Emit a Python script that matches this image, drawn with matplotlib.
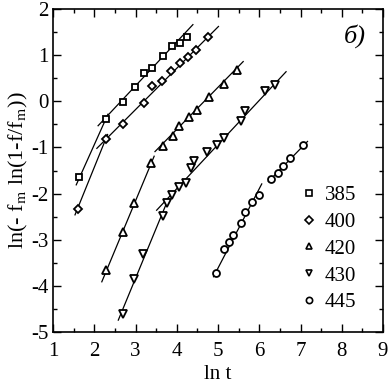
import matplotlib
matplotlib.use("Agg")
import matplotlib.pyplot as plt
from matplotlib.ticker import MultipleLocator

plt.rcParams['font.family'] = ['Liberation Serif', 'DejaVu Serif']
plt.rcParams['mathtext.fontset'] = 'stix'
plt.rcParams['axes.unicode_minus'] = False

# ---- data ----
labels = ['385', '400', '420', '430', '445']
markers = ['s', 'D', '^', 'v', 'o']

x385 = [1.63, 2.28, 2.70, 2.99, 3.21, 3.39, 3.67, 3.88, 4.08, 4.24]
y385 = [-1.64, -0.39, -0.01, 0.31, 0.62, 0.73, 0.98, 1.19, 1.26, 1.40]

x400 = [1.61, 2.28, 2.70, 3.20, 3.39, 3.65, 3.87, 4.07, 4.28, 4.47, 4.76]
y400 = [-2.33, -0.81, -0.50, -0.03, 0.32, 0.43, 0.65, 0.83, 0.96, 1.10, 1.39]

x420 = [2.28, 2.70, 2.97, 3.37, 3.66, 3.90, 4.06, 4.29, 4.48, 4.77, 5.15, 5.47]
y420 = [-3.66, -2.84, -2.20, -1.34, -0.96, -0.76, -0.53, -0.35, -0.19, 0.10, 0.37, 0.68]

x430 = [2.69, 2.95, 3.17, 3.66, 3.76, 3.88, 4.06, 4.22, 4.34, 4.42, 4.74, 4.97, 5.15, 5.56, 5.65, 6.14, 6.38]
y430 = [-4.60, -3.86, -3.31, -2.49, -2.20, -2.03, -1.86, -1.76, -1.45, -1.30, -1.09, -0.95, -0.80, -0.42, -0.21, 0.23, 0.36]

x445 = [4.95, 5.15, 5.27, 5.37, 5.55, 5.65, 5.82, 6.00, 6.28, 6.46, 6.57, 6.75, 7.07]
y445 = [-3.72, -3.21, -3.04, -2.90, -2.63, -2.39, -2.18, -2.03, -1.69, -1.55, -1.40, -1.23, -0.95]

# fitted line segments (endpoints)
fit385 = [([1.56, 2.33], [-1.81, -0.28]), ([2.09, 4.39], [-0.53, 1.66])]
fit400 = [([1.53, 2.32], [-2.46, -0.72]), ([2.06, 5.01], [-1.02, 1.62])]
fit420 = [([2.18, 3.45], [-3.91, -1.19]), ([3.47, 5.61], [-1.09, 0.86])]
fit430 = [([2.58, 3.80], [-4.74, -2.10]), ([3.51, 6.65], [-2.36, 0.64])]
fit445 = [([4.89, 6.06], [-3.80, -1.79]), ([6.22, 7.17], [-1.74, -0.87])]

xs = [x385, x400, x420, x430, x445]
ys = [y385, y400, y420, y430, y445]
fits = [fit385, fit400, fit420, fit430, fit445]
msizes = [5, 4.5, 6, 6, 5]

fig = plt.figure(figsize=(3.88, 3.88), dpi=100)
ax = fig.add_axes([0.137, 0.144, 0.85, 0.833])

handles = []
for x, y, fit, m, lab, ms in zip(xs, ys, fits, markers, labels, msizes):
    for fx, fy in fit:
        ax.plot(fx, fy, color='black', lw=0.9, zorder=2)
    h, = ax.plot(x, y, linestyle='none', marker=m, ms=ms, mfc='white',
                 mec='black', mew=1.3, zorder=3, label=lab)
    handles.append(h)

ax.set_xlim(1, 9)
ax.set_ylim(-5, 2)
ax.xaxis.set_major_locator(MultipleLocator(1))
ax.xaxis.set_minor_locator(MultipleLocator(0.5))
ax.yaxis.set_major_locator(MultipleLocator(1))
ax.yaxis.set_minor_locator(MultipleLocator(0.5))
ax.tick_params(which='both', direction='in', top=True, right=True,
               labelsize=15, width=1.0)
ax.tick_params(which='major', length=6)
ax.tick_params(which='minor', length=3)
ax.tick_params(axis='x', pad=7)
for s in ax.spines.values():
    s.set_linewidth(1.2)

ax.set_xlabel('ln t', fontsize=15, labelpad=3)
ax.set_ylabel(r'ln(- f$_\mathrm{m}$ ln(1-f/f$_\mathrm{m}$))', fontsize=16, labelpad=1)

ax.text(8.05, 1.42, 'б)', fontsize=19, style='italic', ha='left', va='center')

leg = ax.legend(handles=handles, loc='lower right', bbox_to_anchor=(0.945, 0.035),
                frameon=False, fontsize=15, handlelength=0.8, handletextpad=0.35,
                labelspacing=0.35, borderaxespad=0)
for lh in leg.legend_handles:
    lh.set_markersize(4.5)
    lh.set_markeredgewidth(1.2)

fig.savefig('out.png', dpi=100)
